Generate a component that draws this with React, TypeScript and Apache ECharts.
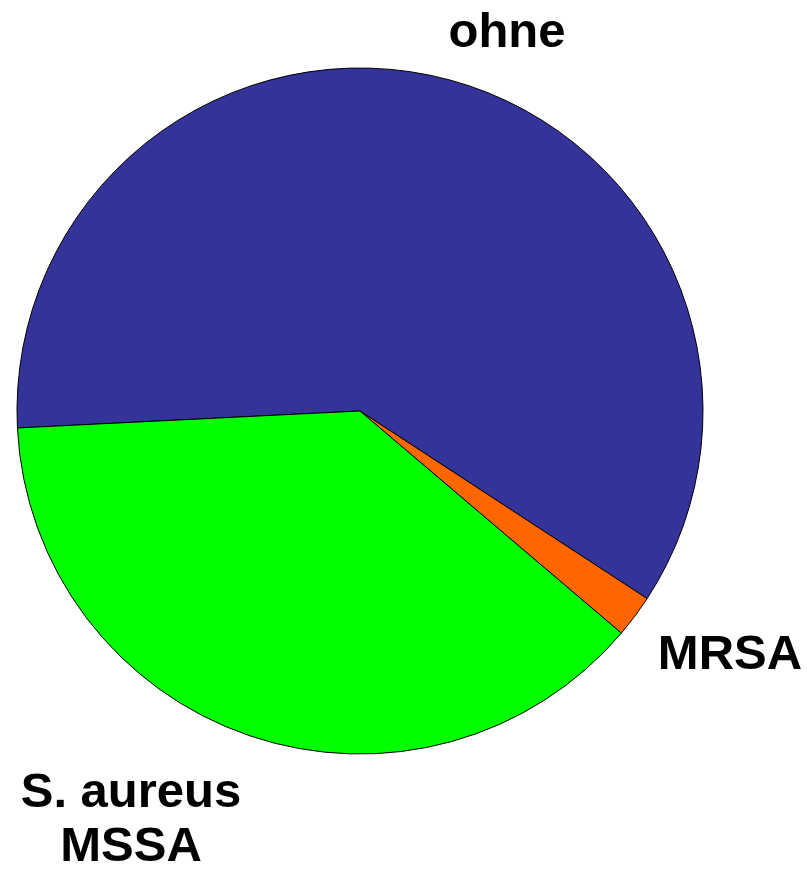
import React, { useEffect, useRef } from "react";
import * as echarts from "echarts";

const categories = ["ohne", "MRSA", "S. aureus MSSA"];
const values = [60, 2, 38];
const colors = ["#333399", "#FF6600", "#00FF00"];

export default function App() {
  const ref = useRef<HTMLDivElement>(null);
  useEffect(() => {
    document.body.style.margin = "0";
    const chart = echarts.init(ref.current!, null, { renderer: "svg" });
    const font = "'Liberation Sans', Arial, sans-serif";
    const textStyle = (text: string) => ({
      text,
      fill: "#000",
      font: `bold 49px ${font}`,
      textAlign: "center",
      textVerticalAlign: "middle",
      lineHeight: 54,
    });
    chart.setOption({
      animation: false,
      backgroundColor: "#fff",
      series: [
        {
          type: "pie",
          center: [360, 411],
          radius: 343,
          startAngle: 182.84,
          clockwise: true,
          label: { show: false },
          labelLine: { show: false },
          emphasis: { disabled: true },
          itemStyle: { borderColor: "#000", borderWidth: 1 },
          data: categories.map((name, i) => ({
            name,
            value: values[i],
            itemStyle: { color: colors[i] },
          })),
        },
      ],
      graphic: [
        { type: "text", x: 507, y: 30, style: textStyle("ohne") },
        { type: "text", x: 730, y: 652, style: textStyle("MRSA") },
        { type: "text", x: 131, y: 817, style: textStyle("S. aureus\nMSSA") },
      ],
    });
    return () => chart.dispose();
  }, []);
  return <div ref={ref} style={{ width: 807, height: 877 }} />;
}
